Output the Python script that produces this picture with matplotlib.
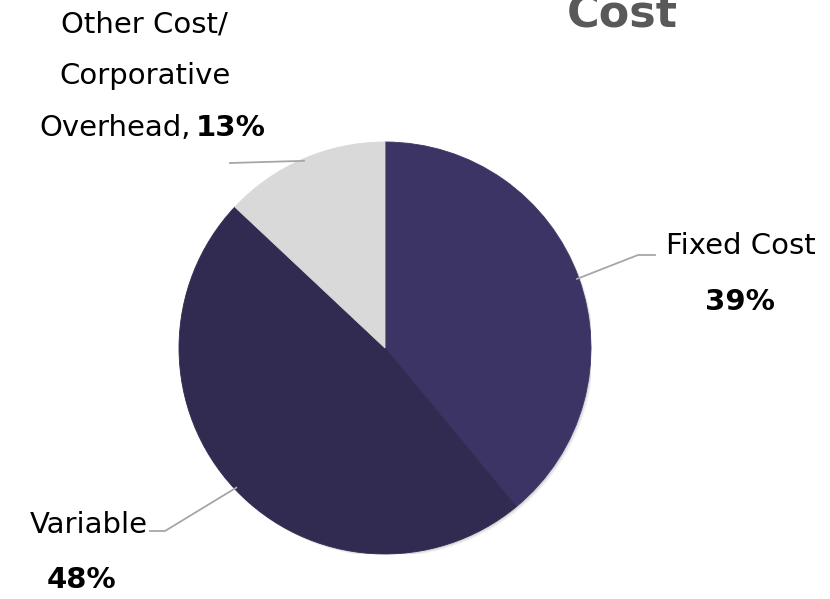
import numpy as np
import matplotlib.pyplot as plt
from matplotlib.patches import Circle

plt.rcParams['font.family'] = ['DejaVu Sans']

labels = ["Fixed Cost", "Variable", "Other Cost/\nCorporative\nOverhead"]
shares = [39, 48, 13]
colors = ["#3d3466", "#312a51", "#d9d9d9"]

W, H = 830, 599
CX, CY, R = 385, 348, 206   # pie centre and radius in pixels

fig = plt.figure(figsize=(W / 100, H / 100), dpi=100)
ax = fig.add_axes([(CX - R) / W, (H - CY - R) / H, 2 * R / W, 2 * R / H])

# soft drop shadow under the whole pie
for k, a in enumerate([0.10, 0.08, 0.06]):
    ax.add_patch(Circle((0.006 + 0.004 * k, -0.006 - 0.004 * k), 1.0, color="#555555",
                        alpha=a, lw=0, zorder=0))

wedges, _ = ax.pie(shares, colors=colors, startangle=90, counterclock=False, radius=1)
for w in wedges:
    w.set_zorder(2)
    w.set_edgecolor(w.get_facecolor())
    w.set_linewidth(0.6)
ax.set_xlim(-1, 1)
ax.set_ylim(-1, 1)
ax.set_aspect("equal")
ax.axis("off")


def px(x, y):
    # pixel position (from top-left) -> pie data coordinates
    return (x - CX) / R, (CY - y) / R


def edge(i, r=0.99):
    w = wedges[i]
    a = np.deg2rad((w.theta1 + w.theta2) / 2)
    return r * np.cos(a), r * np.sin(a)


line_kw = dict(color="#a6a6a6", lw=1.3, clip_on=False)

# leader lines
for i, pts in [(0, [(638, 255), (655, 255)]),
               (1, [(165, 531), (150, 531)]),
               (2, [(230, 163)])]:
    xs, ys = zip(edge(i), *[px(*p) for p in pts])
    ax.plot(xs, ys, **line_kw)

txt = dict(fontsize=21, color="black", clip_on=False)
bold = dict(fontsize=21, color="black", fontweight="bold", clip_on=False)

# Fixed Cost
ax.text(*px(741, 246), labels[0], ha="center", va="center", **txt)
ax.text(*px(740, 302), f"{shares[0]}%", ha="center", va="center", **bold)

# Variable
ax.text(*px(148, 525), labels[1], ha="right", va="center", **txt)
ax.text(*px(81, 580), f"{shares[1]}%", ha="center", va="center", **bold)

# Other cost
l1, l2, l3 = labels[2].split("\n")
ax.text(*px(144, 25), l1, ha="center", va="center", **txt)
ax.text(*px(145, 76), l2, ha="center", va="center", **txt)
ax.text(*px(191, 128), l3 + ",", ha="right", va="center", **txt)
ax.text(*px(196, 128), f"{shares[2]}%", ha="left", va="center", **bold)

# title, cut off at the top edge
fig.text(622 / W, 1 - 27 / H, "Cost", ha="center", va="baseline",
         fontsize=32, fontweight="bold", color="#595959")

fig.savefig("out.png", dpi=100)
